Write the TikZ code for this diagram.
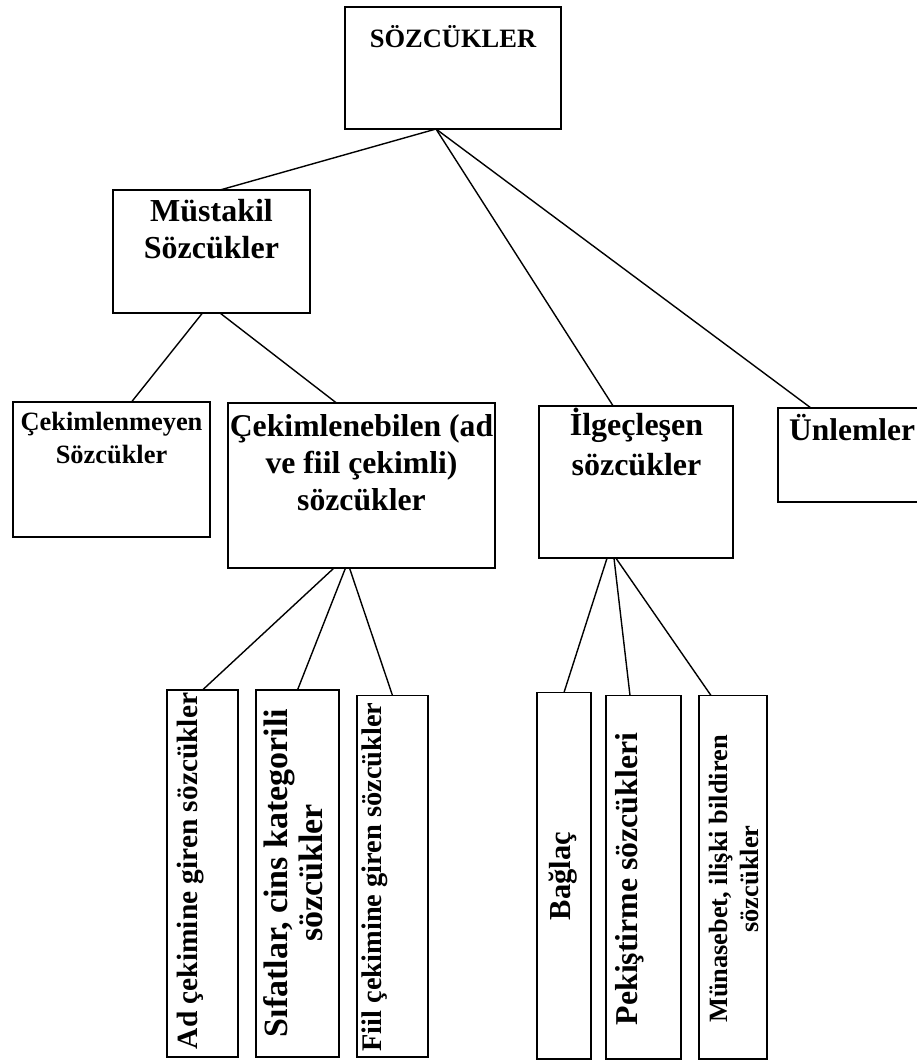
\documentclass[tikz,border=0pt]{standalone}
\usepackage{fontspec}
\setmainfont{Liberation Serif}
\newcommand{\fsz}[2]{\fontsize{#1}{#2}\selectfont\bfseries}
\tikzset{
  box/.style={draw, line width=1.8pt, inner sep=0pt, outer sep=0pt},
  lbl/.style={align=center, inner sep=0pt, anchor=base},
  link/.style={line width=1.4pt},
}

\begin{document}
\begin{tikzpicture}[x=1pt, y=-1pt]
\useasboundingbox (0,0) rectangle (917,1061);
% boxes
\node [box, minimum width=216, minimum height=122] (sozcukler) at (453,68) {};
\node [box, minimum width=197, minimum height=123] (mustakil) at (211.5,251.5) {};
\node [box, minimum width=197, minimum height=135] (cekimsiz) at (111.5,469.5) {};
\node [box, minimum width=267, minimum height=165] (cekimli) at (361.5,485.5) {};
\node [box, minimum width=194, minimum height=152.5] (ilgec) at (636,482) {};
\node [box, minimum width=157, minimum height=94] (unlem) at (856.5,455) {};
\node [box, minimum width=71, minimum height=367] (adcek) at (202.5,873.5) {};
\node [box, minimum width=83, minimum height=367] (sifat) at (297.5,873.5) {};
\node [box, minimum width=71, minimum height=361.5] (fiilcek) at (392.5,876.25) {};
\node [box, minimum width=54, minimum height=366.5] (baglac) at (564,875.75) {};
\node [box, minimum width=75, minimum height=363.5] (pekis) at (643.5,877.25) {};
\node [box, minimum width=68, minimum height=363.5] (munasebet) at (733,877.25) {};
% texts (base = last line)
\node [lbl, font=\fsz{26.5}{30}] (sozcukler-t) at (453,47.5) {SÖZCÜKLER};
\node [lbl, font=\fsz{32}{37}] (mustakil-t) at (211.5,258) {Müstakil\\Sözcükler};
\node [lbl, font=\fsz{26.4}{33}] (cekimsiz-t) at (111.5,463) {Çekimlenmeyen\\Sözcükler};
\node [lbl, font=\fsz{31.7}{37}] (cekimli-t) at (361.5,510) {Çekimlenebilen (ad\\ve fiil çekimli)\\sözcükler};
\node [lbl, font=\fsz{32}{40}] (ilgec-t) at (636.5,475) {İlgeçleşen\\sözcükler};
\node [lbl, anchor=base west, font=\fsz{31.5}{37}] (unlem-t) at (789,440) {Ünlemler};
\node [lbl, rotate=90, font=\fsz{29.4}{34}] (adcek-t) at (197,871) {Ad çekimine giren sözcükler};
\node [lbl, rotate=90, font=\fsz{34}{35}] (sifat-t) at (322,873) {Sıfatlar, cins kategorili\\sözcükler};
\node [lbl, rotate=90, font=\fsz{28.4}{33}] (fiilcek-t) at (381,877) {Fiil çekimine giren sözcükler};
\node [lbl, rotate=90, font=\fsz{30.5}{35}] (baglac-t) at (570,876) {Bağlaç};
\node [lbl, rotate=90, font=\fsz{31.8}{36}] (pekis-t) at (637,879) {Pekiştirme sözcükleri};
\node [lbl, rotate=90, font=\fsz{26.4}{31}] (munasebet-t) at (758,879) {Münasebet, ilişki bildiren\\sözcükler};
% connectors
\draw [link] ([xshift=-17pt]sozcukler.south) -- ([xshift=8.5pt]mustakil.north);
\draw [link] ([xshift=-17pt]sozcukler.south) -- ([xshift=-23pt]ilgec.north);
\draw [link] ([xshift=-17pt]sozcukler.south) -- ([xshift=33pt]unlem.north west);
\draw [link] ([xshift=-9pt]mustakil.south) -- ([xshift=20pt]cekimsiz.north);
\draw [link] ([xshift=8.5pt]mustakil.south) -- ([xshift=-25pt]cekimli.north);
\draw [link] ([xshift=-27.5pt]cekimli.south) -- (adcek.north);
\draw [link] ([xshift=-16pt]cekimli.south) -- (sifat.north);
\draw [link] ([xshift=-12pt]cekimli.south) -- (fiilcek.north);
\draw [link] ([xshift=-29pt]ilgec.south) -- (baglac.north);
\draw [link] ([xshift=-22pt]ilgec.south) -- ([xshift=-13.5pt]pekis.north);
\draw [link] ([xshift=-20pt]ilgec.south) -- ([xshift=-22pt]munasebet.north);
\end{tikzpicture}
\end{document}
